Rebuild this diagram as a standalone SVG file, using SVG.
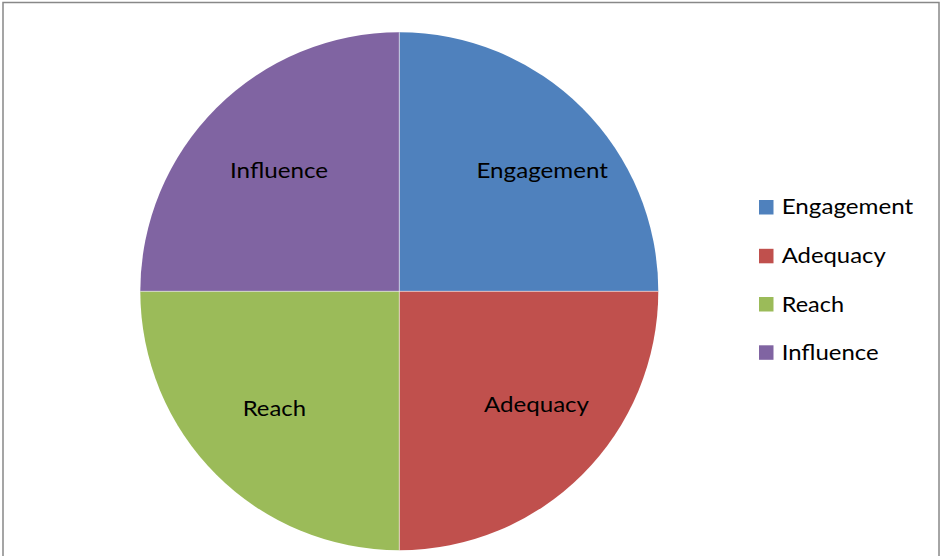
<svg xmlns="http://www.w3.org/2000/svg" width="943" height="556" viewBox="0 0 943 556">
  <style>
    .lbl { font-family: Lato, "Open Sans", "Liberation Sans", sans-serif; font-size: 22px; fill: #000; }
    .eng { fill: #4F81BD; }
    .ade { fill: #C0504D; }
    .rea { fill: #9BBB59; }
    .inf { fill: #8064A2; }
    .div { stroke: #FFFFFF; stroke-opacity: 0.55; stroke-width: 1; fill: none; }
  </style>
  <rect x="0" y="0" width="943" height="556" fill="#FFFFFF"/>
  <rect id="frame" x="3" y="2.5" width="936" height="570" fill="none" stroke="#888888" stroke-width="1.5"/>

  <g id="pie">
    <g id="slice-engagement">
      <path class="eng" d="M399.3,291.3 L399.3,32.3 A259,259 0 0 1 658.3,291.3 Z"/>
      <text class="lbl" x="476.5" y="177.7" textLength="131.5" lengthAdjust="spacingAndGlyphs">Engagement</text>
    </g>
    <g id="slice-adequacy">
      <path class="ade" d="M399.3,291.3 L658.3,291.3 A259,259 0 0 1 399.3,550.3 Z"/>
      <text class="lbl" x="484" y="411.7" textLength="105" lengthAdjust="spacingAndGlyphs">Adequacy</text>
    </g>
    <g id="slice-reach">
      <path class="rea" d="M399.3,291.3 L399.3,550.3 A259,259 0 0 1 140.3,291.3 Z"/>
      <text class="lbl" x="242.7" y="415.7" textLength="63.3" lengthAdjust="spacingAndGlyphs">Reach</text>
    </g>
    <g id="slice-influence">
      <path class="inf" d="M399.3,291.3 L140.3,291.3 A259,259 0 0 1 399.3,32.3 Z"/>
      <text class="lbl" x="230" y="177.7" textLength="98" lengthAdjust="spacingAndGlyphs">Influence</text>
    </g>
  </g>

  <g id="connectors">
    <line class="div" x1="399.3" y1="32.3" x2="399.3" y2="550.3"/>
    <line class="div" x1="140.3" y1="291.3" x2="658.3" y2="291.3"/>
  </g>

  <g id="legend">
    <g id="legend-engagement">
      <rect class="eng" x="759" y="200" width="14.5" height="14.5"/>
      <text class="lbl" x="781.7" y="214.3" textLength="131.6" lengthAdjust="spacingAndGlyphs">Engagement</text>
    </g>
    <g id="legend-adequacy">
      <rect class="ade" x="759" y="248.8" width="14.5" height="14.5"/>
      <text class="lbl" x="781.7" y="263.1" textLength="104" lengthAdjust="spacingAndGlyphs">Adequacy</text>
    </g>
    <g id="legend-reach">
      <rect class="rea" x="759" y="297" width="14.5" height="14.5"/>
      <text class="lbl" x="781.7" y="311.6" textLength="62.3" lengthAdjust="spacingAndGlyphs">Reach</text>
    </g>
    <g id="legend-influence">
      <rect class="inf" x="759" y="345.3" width="14.5" height="14.5"/>
      <text class="lbl" x="781.7" y="360.1" textLength="97" lengthAdjust="spacingAndGlyphs">Influence</text>
    </g>
  </g>
</svg>
